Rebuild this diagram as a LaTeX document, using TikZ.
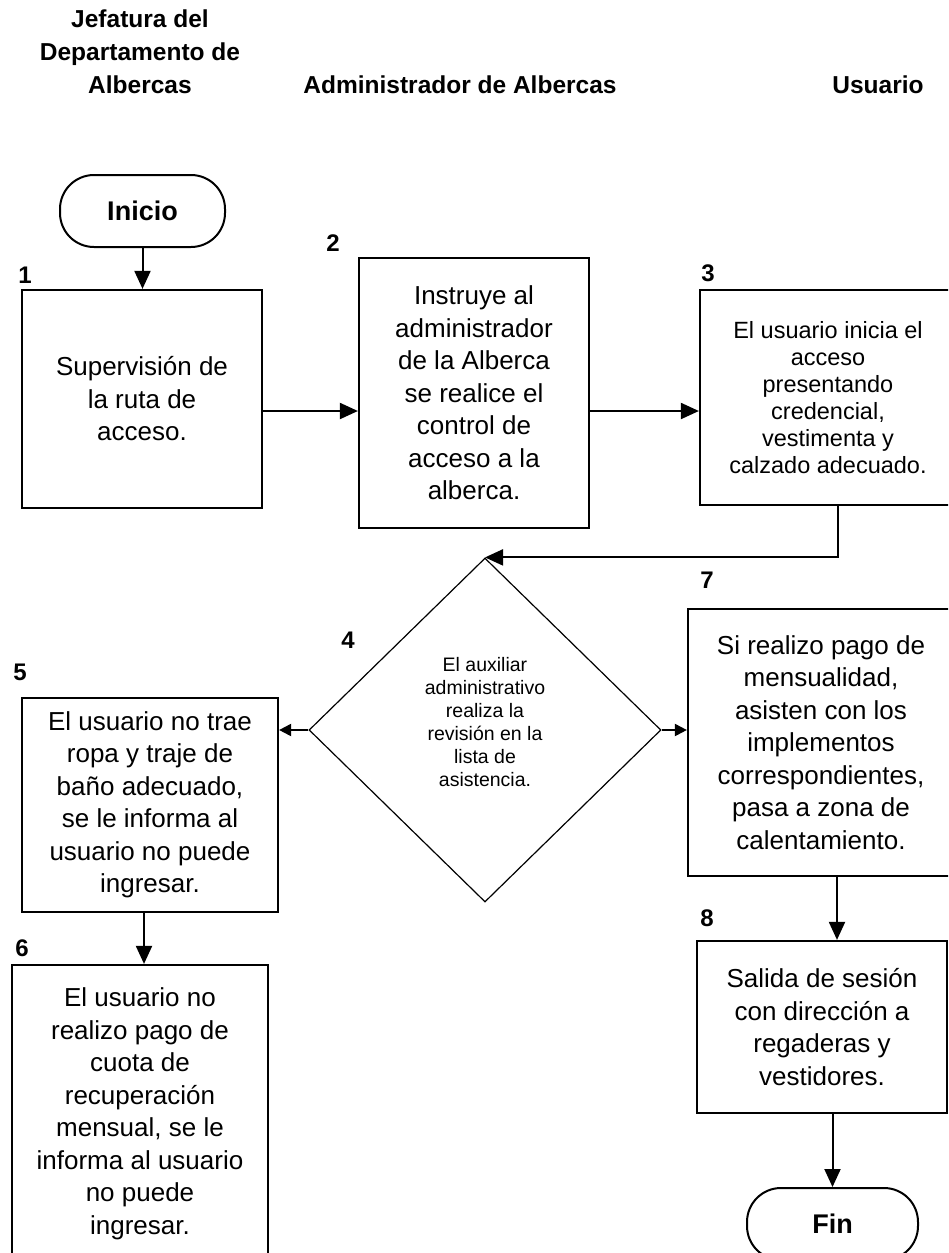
\documentclass[tikz,border=0pt]{standalone}
\usepackage{fontspec}
\setmainfont{Liberation Sans}
\usetikzlibrary{arrows.meta,shapes.geometric}
\begin{document}
\begin{tikzpicture}[x=1pt,y=-1pt,
  box/.style={draw, line width=2.2pt, rectangle, align=center, inner sep=0pt,
    font=\fontsize{26}{32.5}\selectfont},
  smallbox/.style={box, font=\fontsize{23.5}{27}\selectfont},
  term/.style={draw, line width=2pt, rounded corners=34pt, align=center,
    minimum height=72pt, font=\bfseries\fontsize{27}{30}\selectfont},
  num/.style={font=\bfseries\fontsize{24}{28}\selectfont, inner sep=0pt},
  head/.style={align=center, inner sep=0pt, font=\bfseries\fontsize{24.5}{33}\selectfont},
  conn/.style={line width=2pt, -{Triangle[length=18pt,width=16pt]}},
  connsmall/.style={line width=2pt, -{Triangle[length=12pt,width=12pt]}},
  dtext/.style={align=center, inner sep=0pt, font=\fontsize{19.5}{23}\selectfont}
]
\useasboundingbox (0,0) rectangle (948,1253);
\clip (0,0) rectangle (948,1253);

% headers
\node[head] (h1) at (140,52) {Jefatura del\\Departamento de\\Albercas};
\node[head] (h2) at (460,85) {Administrador de Albercas};
\node[head] (h3) at (878,85) {Usuario};

% terminals
\node[term, minimum width=165pt] (ini) at (142.5,211) {Inicio};
\node[term, minimum width=171pt] (fin) at (832.5,1224) {Fin};

% process boxes
\node[box, minimum width=240pt, minimum height=218pt] (b1) at (142,399)
  {Supervisión de\\la ruta de\\acceso.};
\node[box, minimum width=230pt, minimum height=270pt] (b2) at (474,393)
  {Instruye al\\administrador\\de la Alberca\\se realice el\\control de\\acceso a la\\alberca.};
\node[smallbox, minimum width=256pt, minimum height=215pt] (b3) at (828,397.5)
  {El usuario inicia el\\acceso\\presentando\\credencial,\\vestimenta y\\calzado adecuado.};
\node[box, minimum width=256pt, minimum height=214pt] (b5) at (150,805)
  {El usuario no trae\\ropa y traje de\\baño adecuado,\\se le informa al\\usuario no puede\\ingresar.};
\node[box, minimum width=256pt, minimum height=298pt] (b6) at (140,1114)
  {El usuario no\\realizo pago de\\cuota de\\recuperación\\mensual, se le\\informa al usuario\\no puede\\ingresar.};
\node[box, minimum width=266pt, minimum height=267pt] (b7) at (821,742.5)
  {Si realizo pago de\\mensualidad,\\asisten con los\\implementos\\correspondientes,\\pasa a zona de\\calentamiento.};
\node[box, minimum width=250pt, minimum height=172pt] (b8) at (822,1027)
  {Salida de sesión\\con dirección a\\regaderas y\\vestidores.};

% decision
\node[draw, diamond, line width=1.2pt, minimum width=352pt, minimum height=344pt, inner sep=0pt] (dia) at (485,730) {};
\node[dtext] (dt) at (485,722) {El auxiliar\\administrativo\\realiza la\\revisión en la\\lista de\\asistencia.};

% step numbers
\node[num] (n1) at (25,275) {1};
\node[num] (n2) at (333,243) {2};
\node[num] (n3) at (708,273) {3};
\node[num] (n4) at (348,640) {4};
\node[num] (n5) at (20,672) {5};
\node[num] (n6) at (22,948) {6};
\node[num] (n7) at (707,580) {7};
\node[num] (n8) at (707,918) {8};

% helper coordinates
\coordinate (ay) at (0,411);
\coordinate (k3) at (838,0);
\coordinate (k78) at (837,0);
\coordinate (k56) at (144,0);

% connectors
\draw[conn] (ini.south) -- (ini.south |- b1.north);
\draw[conn] (b1.east |- ay) -- (b2.west |- ay);
\draw[conn] (b2.east |- ay) -- (b3.west |- ay);
\draw[conn] (b3.south -| k3) |- (dia.north);
\draw[connsmall] (dia.west) -- (dia.west -| b5.east);
\draw[connsmall] (dia.east) -- (dia.east -| b7.west);
\draw[conn] (b5.south -| k56) -- (b6.north -| k56);
\draw[conn] (b7.south -| k78) -- (b8.north -| k78);
\draw[conn] (b8.south -| fin.north) -- (fin.north);
\end{tikzpicture}
\end{document}
